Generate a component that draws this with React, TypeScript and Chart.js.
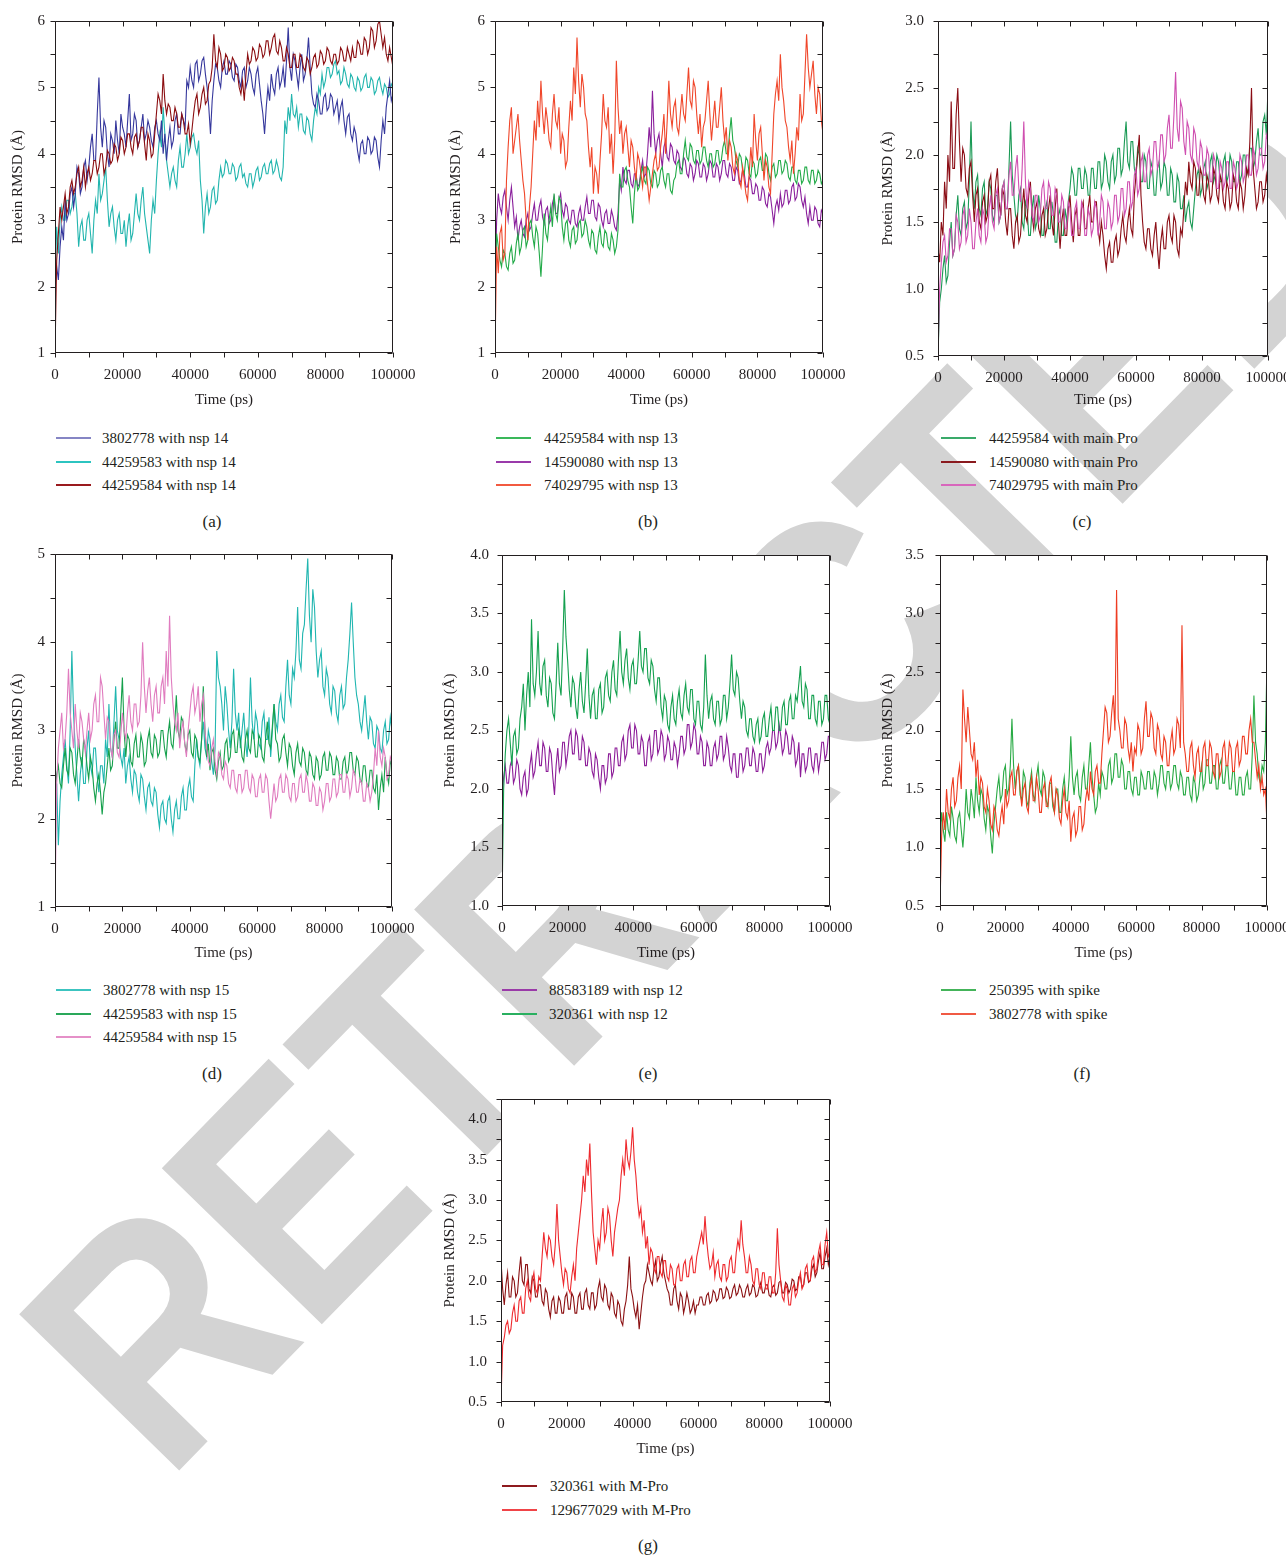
import React, { useEffect, useRef } from "react";
import { Chart, registerables } from "chart.js";

Chart.register(...registerables);
Chart.defaults.font.family = "'Liberation Serif', 'Times New Roman', serif";
Chart.defaults.font.size = 15;
Chart.defaults.color = "#231f20";

// sampling grid of the trajectories (ps), one frame every 500 ps
const TIME_PS = Array.from({ length: 201 }, (_, i) => i * 500);
const X_TICK_STEP = 20000;

// ---------- (a) nsp 14 ----------
const A_3802778 = [2.0,2.3,2.1,2.6,2.9,2.7,3.3,3.0,3.1,3.4,3.5,3.2,3.4,3.8,3.7,3.4,3.5,3.8,3.9,3.6,3.8,4.1,4.3,3.9,3.9,4.6,5.15,4.4,4.1,4.5,4.4,4.0,3.8,4.3,4.2,4.0,4.5,4.2,4.0,4.6,4.4,4.3,4.1,4.5,4.9,4.2,4.3,4.6,4.5,4.1,4.2,4.4,4.6,4.2,4.3,4.5,4.4,4.2,4.1,4.4,4.5,4.3,4.2,4.5,4.0,4.3,3.9,4.2,4.4,4.1,4.2,4.5,4.6,4.3,4.3,4.6,4.5,4.4,5.1,5.0,5.3,5.1,5.0,5.35,5.4,5.1,5.2,5.4,5.45,5.2,5.0,4.7,4.3,4.8,5.1,5.35,5.3,5.1,5.0,5.3,5.4,5.2,5.2,5.4,5.35,5.15,5.1,5.35,5.3,5.1,5.0,5.25,5.3,5.0,5.1,5.3,5.2,5.0,4.9,5.2,5.3,5.05,4.8,4.6,4.3,4.7,5.0,4.8,5.2,5.0,4.9,5.2,5.3,5.0,5.1,5.3,5.0,5.4,5.9,5.3,5.1,5.5,5.4,5.2,5.0,5.3,5.5,5.1,5.2,5.4,5.75,5.3,4.9,4.75,4.7,4.9,4.8,4.6,4.6,4.85,4.9,4.65,4.7,4.9,4.85,4.6,4.7,4.8,4.5,4.7,4.8,4.5,4.3,4.55,4.6,4.3,4.2,4.4,4.3,4.05,3.9,4.15,4.2,4.0,4.0,4.25,4.2,4.0,4.05,4.25,4.2,3.95,3.8,4.2,4.5,4.3,4.7,4.9,5.1,4.8,4.9];
const A_44259583 = [2.0,2.9,2.5,3.0,3.2,3.0,3.0,3.3,3.3,3.1,3.2,3.4,3.4,3.1,2.6,2.9,3.0,2.7,2.7,3.0,3.1,2.8,2.5,3.0,3.3,3.1,3.7,3.3,3.4,3.6,3.8,3.3,2.9,3.1,3.2,2.9,2.7,3.0,3.1,2.8,2.8,3.0,2.6,2.9,3.1,2.7,2.8,3.1,3.4,3.1,3.0,3.3,3.5,3.1,2.9,2.7,2.5,3.0,3.3,3.1,3.6,4.0,4.3,4.1,4.7,4.3,3.9,3.7,3.5,3.7,3.8,3.6,3.5,3.9,4.1,3.8,3.8,4.0,4.3,4.0,4.1,4.25,4.3,4.1,4.0,4.2,3.6,3.3,2.8,3.2,3.4,3.1,3.2,3.45,3.5,3.25,3.3,3.6,3.8,3.65,3.7,3.9,3.85,3.7,3.7,3.85,3.8,3.6,3.65,3.8,3.85,3.65,3.7,3.55,3.5,3.7,3.7,3.5,3.6,3.75,3.8,3.6,3.65,3.8,3.85,3.7,3.7,3.85,3.9,3.7,3.75,3.9,3.8,3.65,3.6,3.8,4.5,4.3,4.7,4.5,4.9,4.6,4.55,4.7,4.4,4.6,4.6,4.35,4.3,4.55,4.5,4.3,4.2,4.5,4.7,4.6,5.0,4.9,5.2,5.0,5.1,5.3,5.3,5.15,5.2,5.35,5.4,5.2,5.25,5.05,5.1,5.3,5.2,5.05,5.0,5.2,5.15,5.0,4.95,5.15,5.1,4.95,5.0,5.15,5.2,5.0,5.0,5.15,5.1,4.9,4.95,5.1,5.15,5.0,4.9,5.05,5.0,4.85,4.9,5.05,5.0];
const A_44259584 = [1.0,2.4,2.8,3.2,3.0,3.2,3.4,3.1,3.2,3.5,3.6,3.4,3.5,3.7,3.8,3.5,3.6,3.8,3.5,3.7,3.8,3.6,3.7,3.9,3.9,3.7,3.8,4.0,4.0,3.7,3.8,4.05,4.0,3.85,3.9,4.15,4.1,3.9,4.0,4.25,4.2,4.0,4.1,4.3,4.3,4.1,4.0,4.25,4.3,4.1,4.2,4.4,4.4,4.15,3.9,4.3,4.2,3.95,4.0,4.3,4.6,4.9,4.8,4.6,5.2,4.8,4.6,4.75,4.7,4.5,4.5,4.7,4.6,4.4,4.4,4.6,4.5,4.3,4.3,4.45,4.15,4.35,4.6,4.8,4.9,4.6,4.7,4.9,5.0,4.75,4.8,5.05,5.1,5.3,5.8,5.4,5.3,5.6,5.5,5.25,5.3,5.5,5.45,5.25,5.3,5.45,5.4,5.2,5.2,5.0,4.9,5.1,4.8,5.2,5.5,5.35,5.4,5.6,5.55,5.4,5.45,5.65,5.6,5.45,5.5,5.7,5.7,5.5,5.6,5.75,5.8,5.55,5.5,5.7,5.6,5.4,5.4,5.6,5.5,5.3,5.3,5.5,5.5,5.3,5.3,5.5,5.45,5.3,5.25,5.45,5.4,5.2,5.3,5.45,5.5,5.3,5.35,5.55,5.5,5.35,5.4,5.6,5.55,5.4,5.35,5.5,5.5,5.35,5.4,5.6,5.55,5.4,5.4,5.6,5.5,5.4,5.6,5.45,5.45,5.7,5.65,5.5,5.5,5.75,5.7,5.5,5.6,5.9,5.85,5.6,5.7,5.95,6.0,5.8,5.6,5.75,5.5,5.4,5.6,5.45,5.3];

// ---------- (b) nsp 13 ----------
const B_44259584 = [2.0,2.8,2.6,2.4,2.3,2.55,2.5,2.3,2.25,2.5,2.6,2.35,2.4,2.65,2.8,2.5,2.6,2.85,2.9,2.6,2.7,2.95,3.0,2.75,2.6,2.9,2.8,2.5,2.15,2.6,3.1,2.8,2.7,3.0,3.2,2.9,3.4,3.1,3.0,3.35,3.3,2.9,2.7,2.95,3.0,2.7,2.6,2.85,2.9,2.65,2.7,2.95,3.0,2.75,2.8,3.0,2.9,2.7,2.6,2.85,2.8,2.55,2.5,2.75,2.9,2.65,2.6,2.85,2.8,2.6,2.55,2.8,2.7,2.5,2.6,2.85,3.7,3.5,3.5,3.75,3.8,3.6,3.5,3.2,2.95,3.4,3.7,3.45,3.5,3.7,3.8,3.6,3.55,3.8,3.75,3.55,3.5,3.75,3.7,3.5,3.55,3.75,3.8,3.6,3.5,3.7,3.7,3.45,3.4,3.6,3.65,3.85,3.9,3.7,3.7,4.0,4.2,3.95,3.9,4.15,4.1,3.9,3.85,4.05,4.05,3.85,3.9,4.1,4.1,3.9,3.8,4.0,4.0,3.8,3.85,4.05,4.05,3.85,3.9,4.1,4.2,4.0,4.0,4.3,4.55,4.2,4.1,3.9,3.8,4.0,3.95,3.75,3.7,3.95,3.9,3.7,3.65,3.9,3.85,3.65,3.7,3.9,3.95,3.75,3.75,4.0,3.95,3.7,3.6,3.8,3.85,3.65,3.7,3.9,3.9,3.7,3.75,3.9,3.85,3.65,3.6,3.8,3.8,3.6,3.55,3.75,3.75,3.55,3.6,3.8,3.8,3.6,3.55,3.75,3.75,3.55,3.6,3.75,3.7,3.55,3.6];
const B_14590080 = [2.0,3.0,3.4,3.2,3.1,3.35,3.45,3.2,3.0,3.3,3.5,3.2,2.9,3.05,2.7,2.9,3.0,2.8,2.75,3.0,3.1,2.85,2.9,3.1,3.25,3.0,3.0,3.2,3.3,3.05,2.95,3.15,3.2,2.95,3.0,3.25,3.35,3.1,3.1,3.3,3.4,3.15,3.05,3.25,3.2,3.0,2.95,3.15,3.15,2.95,2.9,3.1,3.2,3.0,3.0,3.2,3.35,3.1,3.1,3.3,3.3,3.05,3.0,3.25,3.2,3.0,2.9,3.1,3.15,2.95,2.95,3.15,3.05,2.9,2.85,3.1,3.6,3.45,3.8,3.6,3.55,3.75,3.75,3.55,3.5,3.7,3.7,3.5,3.55,3.75,3.9,3.65,3.7,4.0,4.4,4.1,4.95,4.3,4.0,4.2,4.3,4.0,3.8,4.1,4.2,3.95,3.9,4.15,4.1,3.9,3.85,4.05,4.0,3.8,3.75,3.95,3.9,3.7,3.65,3.85,3.8,3.6,3.7,3.9,3.85,3.65,3.65,3.85,3.8,3.6,3.7,3.9,3.85,3.65,3.65,3.85,3.8,3.6,3.7,3.9,3.9,3.7,3.65,3.85,3.8,3.6,3.6,3.8,3.75,3.55,3.6,3.75,3.7,3.5,3.5,3.65,3.6,3.4,3.4,3.55,3.5,3.3,3.3,3.5,3.45,3.25,3.2,3.4,3.35,3.15,2.95,3.2,3.3,3.15,3.4,3.2,3.25,3.45,3.45,3.25,3.3,3.5,3.55,3.3,3.35,3.55,3.5,3.3,3.2,3.35,3.1,2.95,3.2,3.0,3.0,3.2,3.15,2.95,2.9,3.15,3.1];
const B_74029795 = [1.0,2.6,2.2,2.8,2.9,2.4,2.5,3.6,4.1,4.5,4.7,4.0,4.2,4.4,4.6,4.2,3.9,3.6,3.4,3.0,2.7,3.2,3.5,4.0,4.5,4.2,4.8,4.4,5.1,4.6,4.3,4.7,4.5,4.2,4.1,4.6,4.9,4.5,4.4,4.7,4.0,4.3,4.2,3.8,3.9,4.4,4.8,4.5,5.3,4.9,5.75,5.1,4.7,5.2,5.0,4.6,4.5,4.1,3.8,4.1,3.4,3.8,3.7,3.4,3.9,4.3,4.9,4.5,4.4,4.7,4.0,4.3,3.7,4.2,5.4,4.7,4.3,4.5,4.0,4.3,4.4,4.1,3.8,4.2,4.1,3.8,3.6,4.0,3.9,3.7,3.5,3.8,3.8,3.55,3.3,3.5,3.7,3.9,4.0,3.75,3.8,4.1,4.3,4.6,4.0,4.5,5.1,4.6,4.4,4.7,4.8,4.4,4.3,4.6,4.9,4.6,4.5,4.9,5.3,4.8,4.7,5.1,5.0,4.6,4.3,4.6,4.1,4.4,4.5,4.8,5.1,4.6,4.2,4.5,4.8,4.4,4.4,4.7,5.0,4.5,4.2,4.4,3.9,4.2,4.1,3.8,3.7,4.0,3.9,3.6,3.5,3.8,3.6,3.4,3.3,3.7,4.1,3.8,4.6,4.2,3.9,4.3,4.4,4.0,3.6,3.9,3.8,3.5,3.4,4.0,4.6,4.9,5.1,4.8,5.5,5.0,4.8,4.5,4.4,4.1,3.9,4.2,3.7,4.0,4.4,4.2,4.9,4.5,4.6,5.2,5.8,5.3,5.0,5.2,5.4,4.9,4.6,5.0,4.9,4.5,4.3];

// ---------- (c) main Pro ----------
const C_44259584 = [0.5,0.9,1.0,1.15,1.25,1.05,1.1,1.35,1.5,1.25,1.3,1.55,1.7,1.45,1.4,1.6,1.65,1.45,1.5,1.8,2.25,1.75,1.6,1.8,1.85,1.6,1.55,1.75,1.8,1.55,1.6,1.8,1.75,1.55,1.5,1.7,1.7,1.5,1.55,1.75,1.8,1.6,1.6,1.9,2.25,1.85,1.7,1.55,1.5,1.7,1.75,1.5,1.45,1.65,1.6,1.4,1.4,1.6,1.7,1.45,1.5,1.7,1.6,1.4,1.4,1.6,1.65,1.45,1.45,1.65,1.55,1.35,1.35,1.55,1.6,1.4,1.4,1.6,1.5,1.65,1.75,1.9,1.85,1.7,1.7,1.9,1.9,1.75,1.75,1.9,1.85,1.7,1.7,1.9,1.9,1.75,1.75,1.95,1.95,1.75,1.8,2.0,1.95,1.8,1.75,1.95,2.0,1.8,1.85,2.05,2.05,1.85,1.9,2.1,2.25,1.95,1.9,2.1,2.1,1.9,1.85,2.05,2.0,1.8,1.8,2.0,1.95,1.75,1.75,1.95,1.9,1.7,1.7,1.9,1.95,1.75,1.8,1.95,1.9,1.7,1.7,1.9,1.85,1.65,1.65,1.85,1.8,1.6,1.6,1.7,1.5,1.6,1.65,1.5,1.45,1.6,1.75,1.85,1.9,1.7,1.75,1.9,1.95,1.75,1.8,1.95,2.0,1.8,1.85,2.0,1.95,1.8,1.8,1.95,2.0,1.8,1.85,2.0,1.95,1.8,1.8,1.95,1.95,1.8,1.85,2.0,2.0,1.85,1.9,2.05,2.05,1.9,1.95,2.1,2.2,2.0,2.0,2.25,2.3,2.15,2.5];
const C_14590080 = [1.3,1.2,1.5,1.4,1.8,1.6,2.0,1.8,2.4,1.9,1.9,2.3,2.5,2.1,1.8,2.05,2.0,1.75,1.7,1.9,1.95,1.7,1.5,1.7,1.75,1.5,1.45,1.65,1.7,1.5,1.55,1.8,1.85,1.6,1.6,1.8,1.9,1.65,1.55,1.75,1.7,1.5,1.4,1.6,1.6,1.4,1.3,1.5,1.55,1.35,1.4,1.6,1.75,1.55,1.5,1.7,1.8,1.55,1.45,1.6,1.65,1.45,1.4,1.55,1.6,1.4,1.45,1.6,1.7,1.5,1.4,1.6,1.75,1.5,1.3,1.5,1.6,1.4,1.4,1.6,1.7,1.5,1.35,1.55,1.6,1.4,1.4,1.6,1.65,1.45,1.45,1.6,1.7,1.5,1.5,1.65,1.65,1.45,1.35,1.5,1.4,1.25,1.15,1.3,1.35,1.2,1.2,1.35,1.4,1.25,1.3,1.45,1.55,1.4,1.35,1.5,1.6,1.45,1.4,1.7,1.85,2.0,2.15,1.7,1.5,1.35,1.3,1.45,1.45,1.3,1.25,1.4,1.5,1.3,1.15,1.35,1.45,1.3,1.3,1.5,1.55,1.4,1.35,1.55,1.5,1.3,1.25,1.45,1.4,1.6,1.8,1.7,1.95,1.8,1.75,1.95,1.9,1.7,1.7,1.9,1.85,1.7,1.65,1.85,1.8,1.65,1.7,1.9,1.85,1.7,1.65,1.85,1.8,1.65,1.6,1.8,1.75,1.6,1.65,1.85,1.8,1.65,1.6,1.8,1.75,1.6,1.7,1.9,1.85,2.1,2.5,1.9,1.75,1.6,1.65,1.8,1.8,1.65,1.7,1.85,1.75];
const C_74029795 = [0.5,1.0,1.2,1.35,1.4,1.2,1.25,1.45,1.45,1.25,1.3,1.55,1.5,1.3,1.35,1.55,1.6,1.35,1.4,1.6,1.5,1.3,1.3,1.5,1.6,1.4,1.35,1.6,1.55,1.35,1.4,1.6,1.7,1.5,1.45,1.7,1.75,1.5,1.55,1.75,1.8,1.6,1.6,1.85,1.95,1.7,1.7,1.9,2.0,1.75,1.65,1.9,2.25,1.8,1.6,1.8,1.75,1.55,1.5,1.7,1.7,1.5,1.55,1.75,1.8,1.6,1.6,1.8,1.75,1.55,1.55,1.75,1.7,1.5,1.5,1.7,1.65,1.45,1.45,1.65,1.6,1.4,1.4,1.6,1.65,1.45,1.45,1.65,1.6,1.4,1.4,1.6,1.55,1.4,1.45,1.65,1.6,1.4,1.5,1.7,1.65,1.45,1.45,1.65,1.6,1.45,1.5,1.7,1.7,1.5,1.55,1.75,1.75,1.55,1.6,1.8,1.8,1.6,1.65,1.85,1.9,1.7,1.75,1.95,2.0,1.8,1.8,2.0,2.05,1.85,1.9,2.1,2.1,1.9,1.95,2.15,2.15,1.95,2.0,2.2,2.3,2.05,2.05,2.3,2.62,2.2,2.1,2.4,2.35,2.1,2.0,2.25,2.2,2.0,1.95,2.2,2.15,1.95,1.9,2.1,2.05,1.85,1.85,2.05,2.0,1.8,1.8,2.0,1.95,1.75,1.75,1.95,1.9,1.75,1.8,1.95,1.95,1.75,1.75,1.95,1.9,1.75,1.8,2.0,1.95,1.8,1.85,2.0,2.0,1.85,1.85,2.05,2.0,1.85,1.9,2.05,2.05,1.9,1.95,2.15,2.1];

// ---------- (d) nsp 15 ----------
const D_3802778 = [2.0,2.4,1.7,2.2,2.5,2.7,2.9,2.6,2.4,3.0,3.9,3.2,2.8,2.5,2.2,2.5,2.7,2.4,2.4,2.8,3.0,2.6,2.5,2.8,2.8,2.5,2.3,2.6,2.6,2.4,2.9,2.7,3.3,2.8,2.7,3.1,3.5,3.0,2.9,2.7,2.6,2.8,2.4,2.6,2.7,2.45,2.3,2.55,2.5,2.3,2.2,2.5,2.45,2.25,2.1,2.35,2.4,2.2,2.15,2.35,2.3,2.05,1.9,2.15,2.2,2.0,1.95,2.2,2.25,2.0,1.85,2.1,2.2,2.0,2.0,2.25,2.35,2.1,2.1,2.35,2.45,2.25,2.2,2.6,2.9,2.7,2.6,2.9,3.1,2.8,2.7,3.0,2.9,2.65,2.5,2.8,3.9,3.6,3.5,3.3,3.0,3.5,3.3,3.0,2.8,3.1,3.7,3.2,3.0,3.2,2.8,3.0,3.2,2.9,2.7,3.0,3.6,3.1,2.9,3.2,3.1,2.85,2.8,3.1,3.2,2.9,2.9,3.15,2.7,3.0,3.3,3.1,3.0,3.3,3.4,3.15,3.1,3.5,3.8,3.4,3.3,3.7,3.6,3.9,4.4,3.8,3.7,4.1,4.2,4.6,4.95,4.3,4.0,4.6,4.4,3.9,3.6,3.8,3.9,3.5,3.4,3.7,3.6,3.3,3.2,3.5,3.45,3.2,3.1,3.4,3.5,3.25,3.3,3.6,3.8,4.1,4.45,4.0,3.6,3.4,3.3,3.1,3.0,3.2,3.4,3.1,2.9,3.15,3.1,2.85,2.8,3.05,3.0,2.8,2.75,3.0,3.1,2.85,2.9,3.15,3.0];
const D_44259583 = [2.3,2.5,2.6,2.4,2.35,2.6,2.8,2.55,2.5,2.8,2.75,2.5,2.4,2.65,2.9,2.7,2.6,2.9,2.8,2.6,2.45,2.7,2.6,2.35,2.2,2.4,2.5,2.3,2.05,2.3,2.4,2.6,2.8,2.55,2.6,2.9,3.1,2.8,2.8,3.2,3.6,3.0,2.7,2.95,2.9,2.65,2.6,2.85,2.95,2.7,2.7,2.95,2.85,2.6,2.65,2.9,3.0,2.75,2.7,2.95,2.9,2.7,2.75,3.0,3.0,2.8,2.7,2.95,3.1,2.85,2.8,3.05,3.4,3.0,2.9,3.15,3.1,2.85,2.75,2.95,3.0,2.75,2.7,2.95,2.9,2.7,2.65,2.9,3.5,3.0,2.7,2.85,2.55,2.75,2.8,2.55,2.45,2.65,2.75,2.55,2.6,2.85,2.9,2.65,2.7,2.95,3.0,2.75,2.75,3.0,2.9,2.7,2.65,2.9,3.0,2.8,2.75,3.0,2.95,2.7,2.7,2.95,2.9,2.7,2.65,2.9,3.1,2.85,2.8,3.05,3.3,2.9,2.85,2.65,2.7,2.9,2.95,2.75,2.6,2.85,2.8,2.6,2.5,2.75,2.85,2.65,2.6,2.8,2.75,2.55,2.5,2.75,2.7,2.5,2.45,2.7,2.65,2.45,2.5,2.7,2.75,2.55,2.55,2.75,2.7,2.5,2.5,2.7,2.65,2.45,2.45,2.65,2.7,2.5,2.55,2.75,2.75,2.55,2.5,2.7,2.65,2.45,2.4,2.6,2.6,2.4,2.35,2.55,2.55,2.35,2.3,2.5,2.1,2.35,2.5,2.3,2.7,2.5,2.4,2.65,2.6];
const D_44259584 = [1.0,2.4,2.8,3.0,3.2,2.8,2.9,3.2,3.7,3.2,3.0,2.8,3.3,3.0,2.8,3.2,3.1,2.9,2.75,3.0,3.2,2.9,3.0,3.3,3.4,3.1,3.1,3.6,3.5,3.2,2.9,3.15,3.1,2.8,2.7,2.95,3.0,2.75,2.7,2.95,3.2,3.0,2.9,3.2,3.4,3.1,3.0,3.3,3.3,3.05,3.1,3.4,4.0,3.5,3.2,3.45,3.6,3.3,3.1,3.4,3.5,3.2,3.2,3.5,3.6,3.3,3.9,3.5,4.3,3.6,3.3,3.1,3.0,3.2,2.8,3.0,3.1,2.85,2.7,3.0,3.2,3.4,3.5,3.2,3.3,3.5,3.1,3.3,3.4,3.0,2.8,2.65,2.6,2.8,2.9,2.65,2.5,2.75,2.7,2.5,2.45,2.65,2.6,2.4,2.35,2.55,2.55,2.35,2.3,2.5,2.5,2.3,2.35,2.55,2.55,2.35,2.3,2.5,2.45,2.25,2.25,2.45,2.5,2.3,2.3,2.5,2.45,2.2,2.0,2.2,2.4,2.2,2.25,2.45,2.5,2.3,2.3,2.5,2.45,2.25,2.2,2.4,2.4,2.2,2.25,2.45,2.5,2.3,2.3,2.5,2.4,2.2,2.2,2.4,2.35,2.15,2.15,2.35,2.3,2.1,2.2,2.4,2.4,2.2,2.25,2.45,2.45,2.25,2.3,2.5,2.5,2.3,2.3,2.5,2.45,2.25,2.35,2.55,2.5,2.3,2.3,2.45,2.4,2.2,2.2,2.4,2.35,2.2,2.3,2.5,2.8,2.6,3.0,2.7,2.6,2.8,2.7,2.45,2.5,2.7,2.65];

// ---------- (e) nsp 12 ----------
const E_88583189 = [1.9,2.1,2.2,2.05,2.05,2.2,2.25,2.05,2.1,2.25,2.2,2.0,1.95,2.1,2.15,1.95,2.0,2.2,2.3,2.1,2.15,2.3,2.4,2.2,2.2,2.4,2.35,2.15,2.15,2.35,2.3,2.1,1.95,2.2,2.35,2.15,2.2,2.4,2.4,2.2,2.3,2.45,2.5,2.3,2.3,2.5,2.45,2.25,2.25,2.45,2.4,2.2,2.2,2.35,2.3,2.15,2.1,2.3,2.25,2.1,2.0,2.2,2.2,2.05,2.1,2.3,2.3,2.1,2.15,2.35,2.35,2.2,2.2,2.4,2.45,2.25,2.3,2.5,2.55,2.35,2.35,2.55,2.5,2.3,2.3,2.45,2.4,2.2,2.2,2.4,2.45,2.25,2.3,2.5,2.5,2.3,2.35,2.5,2.45,2.25,2.3,2.45,2.4,2.25,2.25,2.4,2.35,2.2,2.3,2.45,2.45,2.3,2.35,2.55,2.55,2.35,2.4,2.55,2.5,2.3,2.3,2.45,2.4,2.2,2.2,2.4,2.35,2.2,2.2,2.35,2.4,2.25,2.3,2.45,2.45,2.25,2.3,2.45,2.35,2.2,2.15,2.3,2.3,2.1,2.1,2.3,2.3,2.15,2.2,2.35,2.35,2.2,2.2,2.35,2.3,2.15,2.15,2.3,2.3,2.15,2.2,2.35,2.4,2.3,2.35,2.5,2.5,2.35,2.4,2.55,2.45,2.3,2.35,2.5,2.45,2.3,2.3,2.45,2.4,2.2,2.25,2.4,2.1,2.3,2.3,2.15,2.2,2.35,2.35,2.2,2.15,2.3,2.3,2.15,2.25,2.4,2.4,2.25,2.3,2.45,2.45];
const E_320361 = [1.0,2.0,2.3,2.5,2.6,2.4,2.2,2.45,2.5,2.3,2.35,2.6,2.7,2.9,2.5,2.8,3.0,2.7,3.45,2.9,2.8,3.0,3.35,2.9,2.8,3.05,3.1,2.8,2.7,2.95,2.9,2.65,2.6,2.9,3.25,2.9,2.8,3.2,3.7,3.3,3.1,2.85,2.7,2.95,2.9,2.7,2.6,2.85,3.0,2.75,2.65,2.9,3.2,2.8,2.6,2.8,2.85,2.6,2.6,2.85,2.9,2.65,2.7,2.95,3.0,2.8,2.75,3.0,3.1,2.85,2.8,3.1,3.35,3.0,2.9,3.1,3.2,2.95,2.85,3.05,3.1,2.9,2.9,3.1,3.35,3.05,3.0,3.2,3.2,2.95,2.9,3.1,3.05,2.85,2.75,2.95,2.95,2.7,2.6,2.8,2.75,2.55,2.5,2.7,2.8,2.6,2.55,2.75,2.85,2.65,2.6,2.8,2.9,2.7,2.65,2.85,2.85,2.6,2.55,2.75,2.75,2.55,2.5,2.7,3.15,2.8,2.6,2.75,2.8,2.6,2.55,2.75,2.75,2.55,2.6,2.8,2.8,2.6,2.7,2.9,3.15,2.85,2.8,3.0,2.95,2.75,2.6,2.75,2.7,2.5,2.45,2.6,2.6,2.45,2.4,2.55,2.6,2.4,2.45,2.6,2.65,2.45,2.45,2.6,2.7,2.5,2.5,2.7,2.7,2.5,2.5,2.7,2.75,2.55,2.55,2.75,2.8,2.6,2.6,2.8,2.75,2.9,3.05,2.75,2.7,2.9,2.85,2.6,2.6,2.8,2.8,2.6,2.55,2.75,2.75,2.55,2.6,2.8,2.8,2.6,2.55];

// ---------- (f) spike ----------
const F_250395 = [1.0,1.3,1.15,1.05,1.3,1.15,1.1,1.35,1.25,1.1,1.05,1.25,1.3,1.15,1.0,1.2,1.5,1.3,1.25,1.5,1.4,1.25,1.6,1.4,1.3,1.5,1.45,1.25,1.15,1.35,1.3,1.1,0.95,1.2,1.35,1.5,1.6,1.4,1.45,1.65,1.7,1.45,1.5,1.7,2.1,1.7,1.5,1.65,1.7,1.45,1.4,1.65,1.6,1.4,1.35,1.55,1.65,1.45,1.4,1.6,1.7,1.5,1.45,1.65,1.6,1.4,1.35,1.55,1.55,1.35,1.3,1.5,1.5,1.3,1.3,1.5,1.6,1.4,1.4,1.6,1.95,1.6,1.45,1.6,1.65,1.45,1.4,1.6,1.7,1.5,1.5,1.7,1.9,1.6,1.45,1.3,1.35,1.55,1.45,1.65,1.6,1.5,1.5,1.7,1.75,1.55,1.6,1.8,1.8,1.6,1.6,1.75,1.7,1.5,1.5,1.65,1.65,1.5,1.45,1.6,1.6,1.45,1.45,1.65,1.6,1.5,1.5,1.65,1.65,1.5,1.5,1.65,1.6,1.45,1.55,1.7,1.7,1.55,1.5,1.65,1.65,1.5,1.55,1.7,1.7,1.55,1.5,1.65,1.6,1.45,1.45,1.6,1.6,1.45,1.4,1.6,1.55,1.4,1.45,1.6,1.7,1.5,1.55,1.75,1.75,1.55,1.55,1.7,1.7,1.5,1.5,1.7,1.75,1.55,1.55,1.7,1.7,1.5,1.5,1.65,1.65,1.45,1.45,1.6,1.6,1.45,1.45,1.6,1.65,1.5,1.5,1.8,2.3,1.9,1.8,1.6,1.55,1.7,1.65,1.9,2.6];
const F_3802778 = [0.5,1.1,1.3,1.15,1.5,1.3,1.25,1.5,1.6,1.35,1.4,1.6,1.7,1.5,2.35,2.1,1.9,2.2,2.0,1.8,1.75,1.9,1.6,1.75,1.45,1.6,1.55,1.35,1.3,1.5,1.4,1.2,1.15,1.35,1.3,1.15,1.1,1.25,1.35,1.2,1.5,1.35,1.4,1.6,1.65,1.45,1.45,1.65,1.7,1.5,1.35,1.5,1.55,1.35,1.3,1.5,1.6,1.4,1.4,1.6,1.5,1.3,1.3,1.5,1.55,1.35,1.35,1.55,1.6,1.4,1.3,1.5,1.45,1.25,1.2,1.4,1.5,1.3,1.25,1.4,1.05,1.25,1.3,1.1,1.15,1.35,1.35,1.15,1.2,1.4,1.5,1.4,1.65,1.5,1.45,1.65,1.7,1.55,1.55,1.8,2.0,2.2,2.15,1.9,1.95,2.15,2.3,2.0,3.2,2.1,2.0,1.85,1.85,2.1,2.05,1.85,1.75,1.9,1.65,1.85,1.8,2.05,2.0,1.8,1.85,2.1,2.25,1.95,1.95,2.15,2.1,1.85,1.8,2.05,2.0,1.8,1.75,1.95,1.9,1.7,1.7,1.9,2.0,1.8,1.85,2.1,2.05,1.85,2.9,1.9,1.8,1.65,1.65,1.85,1.9,1.7,1.6,1.8,1.85,1.65,1.65,1.85,1.9,1.7,1.7,1.9,1.85,1.65,1.6,1.8,1.8,1.6,1.65,1.85,1.9,1.7,1.7,1.9,1.85,1.65,1.65,1.85,1.9,1.7,1.75,1.95,1.95,1.8,1.8,2.0,2.1,1.9,1.9,1.75,1.6,1.7,1.5,1.6,1.45,1.5,1.2];

// ---------- (g) M-Pro ----------
const G_320361 = [2.25,1.9,1.7,1.95,2.1,1.8,1.8,2.05,2.0,1.8,1.85,2.1,2.3,2.0,1.95,2.2,2.2,1.9,1.85,2.05,2.0,1.8,1.8,1.95,1.95,1.75,1.7,1.9,1.85,1.65,1.55,1.75,1.8,1.6,1.6,1.8,1.75,1.6,1.6,1.8,1.85,1.65,1.65,1.85,1.8,1.6,1.6,1.8,1.85,1.65,1.65,1.85,1.9,1.7,1.65,1.85,1.85,1.65,1.7,1.9,2.0,1.8,1.75,1.95,1.9,1.7,1.65,1.85,1.8,1.6,1.55,1.75,1.7,1.5,1.45,1.65,1.75,1.95,2.3,1.9,1.8,1.65,1.55,1.7,1.4,1.6,1.8,1.95,2.0,2.2,2.1,2.0,1.95,2.15,2.25,2.0,2.05,2.2,2.3,2.1,2.0,1.9,1.85,1.7,1.7,1.9,1.95,1.75,1.65,1.85,1.8,1.6,1.7,1.85,1.75,1.6,1.65,1.75,1.6,1.7,1.7,1.8,1.8,1.7,1.7,1.82,1.85,1.72,1.75,1.88,1.85,1.75,1.78,1.9,1.9,1.78,1.8,1.92,1.88,1.78,1.8,1.9,1.95,1.82,1.85,1.95,1.9,1.8,1.8,1.9,1.95,1.82,1.85,1.95,1.92,1.8,1.82,1.92,1.98,1.85,1.85,1.95,1.95,1.82,1.8,1.92,1.95,1.82,1.85,1.98,2.0,1.85,1.85,1.98,1.95,1.85,1.9,2.02,2.0,1.88,1.9,2.05,2.05,1.92,1.95,2.1,2.1,1.98,2.0,2.15,2.2,2.05,2.1,2.25,2.35,2.15,2.15,2.3,2.4,2.2,2.3];
const G_129677029 = [0.5,1.2,1.3,1.45,1.5,1.35,1.4,1.6,1.7,1.5,1.5,1.75,1.8,1.6,1.6,1.9,2.0,1.8,1.75,2.0,2.1,1.9,1.85,2.05,2.0,2.3,2.6,2.4,2.3,2.55,2.5,2.3,2.2,2.45,2.95,2.5,2.3,2.1,1.95,2.15,2.1,1.9,1.85,2.05,2.2,2.0,2.4,2.6,2.8,3.0,3.3,3.1,3.5,3.3,3.7,3.1,2.6,2.4,2.2,2.5,2.4,2.7,2.9,2.5,2.6,2.9,2.8,2.5,2.3,2.6,2.75,2.9,3.0,3.3,3.5,3.3,3.75,3.5,3.4,3.6,3.9,3.5,3.3,3.0,2.8,2.9,2.6,2.75,2.4,2.55,2.2,2.4,2.35,2.15,2.1,2.3,2.3,2.1,2.05,2.25,2.25,2.05,2.0,2.2,2.15,1.95,1.95,2.15,2.2,2.0,2.0,2.2,2.25,2.05,2.05,2.25,2.3,2.1,2.1,2.3,2.4,2.5,2.6,2.45,2.8,2.5,2.3,2.15,2.2,2.35,2.05,2.2,2.25,2.05,2.0,2.2,2.2,2.0,2.05,2.25,2.3,2.1,2.1,2.35,2.5,2.4,2.75,2.45,2.3,2.1,2.1,2.3,2.2,2.0,1.95,2.15,2.15,1.95,1.9,2.1,2.1,1.9,1.9,2.05,2.05,1.85,1.85,2.1,2.65,2.2,2.0,1.8,1.75,1.95,1.9,1.7,1.7,1.9,1.95,1.8,1.85,2.0,2.1,1.9,1.95,2.15,2.2,2.0,2.0,2.25,2.3,2.1,2.15,2.35,2.45,2.2,2.2,2.45,2.6,2.3,2.35];

type Series = { label: string; data: number[]; color: string; legendColor: string };
type PanelCfg = {
  id: string;
  L: number; T: number; R: number; B: number;
  titleX: number; titleY: number;
  yMin: number; yMax: number; yTop: number; yStep: number; yMinor: number; decimals: number; yPad: number;
  drawOrder: Series[]; // first = drawn on top
  legend: Series[];
  legendX: number; legendTextX: number; legendY: number;
  caption: string; capX: number; capY: number;
};

const sA1 = { label: "3802778 with nsp 14", data: A_3802778, color: "#35379c", legendColor: "#8585c4" };
const sA2 = { label: "44259583 with nsp 14", data: A_44259583, color: "#22b5ae", legendColor: "#2cc4c0" };
const sA3 = { label: "44259584 with nsp 14", data: A_44259584, color: "#8b0d10", legendColor: "#9a1a1e" };
const sB1 = { label: "44259584 with nsp 13", data: B_44259584, color: "#22aa48", legendColor: "#3ab85a" };
const sB2 = { label: "14590080 with nsp 13", data: B_14590080, color: "#8a1f9c", legendColor: "#9a3aaa" };
const sB3 = { label: "74029795 with nsp 13", data: B_74029795, color: "#f0462a", legendColor: "#f25a40" };
const sC1 = { label: "44259584 with main Pro", data: C_44259584, color: "#1a9a55", legendColor: "#3aaa6a" };
const sC2 = { label: "14590080 with main Pro", data: C_14590080, color: "#8a0c14", legendColor: "#8a1a1e" };
const sC3 = { label: "74029795 with main Pro", data: C_74029795, color: "#cf4fb0", legendColor: "#d866bc" };
const sD1 = { label: "3802778 with nsp 15", data: D_3802778, color: "#20b6b0", legendColor: "#3cc4c0" };
const sD2 = { label: "44259583 with nsp 15", data: D_44259583, color: "#15a04c", legendColor: "#2aa85a" };
const sD3 = { label: "44259584 with nsp 15", data: D_44259584, color: "#e07cbf", legendColor: "#e590c8" };
const sE1 = { label: "88583189 with nsp 12", data: E_88583189, color: "#8c1c98", legendColor: "#9a3aa8" };
const sE2 = { label: "320361 with nsp 12", data: E_320361, color: "#14a04f", legendColor: "#2ab060" };
const sF1 = { label: "250395 with spike", data: F_250395, color: "#28aa44", legendColor: "#44b45a" };
const sF2 = { label: "3802778 with spike", data: F_3802778, color: "#ee3c22", legendColor: "#f05a44" };
const sG1 = { label: "320361 with M-Pro", data: G_320361, color: "#8b1012", legendColor: "#8e1a1e" };
const sG2 = { label: "129677029 with M-Pro", data: G_129677029, color: "#ee2a2e", legendColor: "#f04448" };

const PANELS: PanelCfg[] = [
  { id: "a", L: 55, T: 21, R: 393, B: 353, titleX: 18, titleY: 400, yMin: 1, yMax: 6, yTop: 6, yStep: 1, yMinor: 0.5, decimals: 0, yPad: 10,
    drawOrder: [sA3, sA1, sA2], legend: [sA1, sA2, sA3], legendX: 56, legendTextX: 102, legendY: 438, caption: "(a)", capX: 212, capY: 522 },
  { id: "b", L: 495, T: 21, R: 823, B: 353, titleX: 456, titleY: 400, yMin: 1, yMax: 6, yTop: 6, yStep: 1, yMinor: 0.5, decimals: 0, yPad: 10,
    drawOrder: [sB3, sB1, sB2], legend: [sB1, sB2, sB3], legendX: 496, legendTextX: 544, legendY: 438, caption: "(b)", capX: 648, capY: 522 },
  { id: "c", L: 938, T: 21, R: 1268, B: 356, titleX: 888, titleY: 400, yMin: 0.5, yMax: 3.0, yTop: 3.0, yStep: 0.5, yMinor: 0.25, decimals: 1, yPad: 14,
    drawOrder: [sC3, sC2, sC1], legend: [sC1, sC2, sC3], legendX: 941, legendTextX: 989, legendY: 438, caption: "(c)", capX: 1082, capY: 522 },
  { id: "d", L: 55, T: 554, R: 392, B: 907, titleX: 18, titleY: 953, yMin: 1, yMax: 5, yTop: 5, yStep: 1, yMinor: 0.5, decimals: 0, yPad: 10,
    drawOrder: [sD3, sD2, sD1], legend: [sD1, sD2, sD3], legendX: 56, legendTextX: 103, legendY: 990, caption: "(d)", capX: 212, capY: 1074 },
  { id: "e", L: 502, T: 555, R: 830, B: 906, titleX: 450, titleY: 953, yMin: 1.0, yMax: 4.0, yTop: 4.0, yStep: 0.5, yMinor: 0.25, decimals: 1, yPad: 13,
    drawOrder: [sE2, sE1], legend: [sE1, sE2], legendX: 502, legendTextX: 549, legendY: 990, caption: "(e)", capX: 648, capY: 1074 },
  { id: "f", L: 940, T: 555, R: 1267, B: 906, titleX: 888, titleY: 953, yMin: 0.5, yMax: 3.5, yTop: 3.5, yStep: 0.5, yMinor: 0.25, decimals: 1, yPad: 16,
    drawOrder: [sF2, sF1], legend: [sF1, sF2], legendX: 941, legendTextX: 989, legendY: 990, caption: "(f)", capX: 1082, capY: 1074 },
  { id: "g", L: 501, T: 1099, R: 830, B: 1402, titleX: 450, titleY: 1449, yMin: 0.5, yMax: 4.25, yTop: 4.0, yStep: 0.5, yMinor: 0.25, decimals: 1, yPad: 14,
    drawOrder: [sG2, sG1], legend: [sG1, sG2], legendX: 502, legendTextX: 550, legendY: 1486, caption: "(g)", capX: 648, capY: 1546 },
];

const PAD_RIGHT = 42;
const X_LABEL_PAD = 13;
const INK = "#231f20";

function makeFramePlugin(p: PanelCfg) {
  return {
    id: "frame" + p.id,
    beforeDraw(chart: any) {
      const { ctx, chartArea: a } = chart;
      ctx.save();
      ctx.fillStyle = "#ffffff";
      ctx.fillRect(a.left, a.top, a.right - a.left, a.bottom - a.top);
      ctx.restore();
    },
    afterDraw(chart: any) {
      const { ctx, chartArea: a, scales } = chart;
      const xs = scales.x;
      const ys = scales.y;
      ctx.save();
      ctx.strokeStyle = INK;
      ctx.lineWidth = 1;
      const l = Math.round(a.left) + 0.5;
      const r = Math.round(a.right) - 0.5;
      const t = Math.round(a.top) + 0.5;
      const b = Math.round(a.bottom) - 0.5;
      ctx.beginPath();
      ctx.rect(l, t, r - l, b - t);
      for (let v = 0; v <= 100000 + 1; v += 10000) {
        const px = Math.round(xs.getPixelForValue(v)) + 0.5;
        ctx.moveTo(px, b); ctx.lineTo(px, b + 5);
        ctx.moveTo(px, t); ctx.lineTo(px, t + 5);
      }
      for (let v = p.yMin; v <= p.yMax + 1e-6; v += p.yMinor) {
        const py = Math.round(ys.getPixelForValue(v)) + 0.5;
        ctx.moveTo(l - 5, py); ctx.lineTo(l, py);
        ctx.moveTo(r - 5, py); ctx.lineTo(r, py);
      }
      ctx.stroke();
      ctx.restore();
    },
  };
}

function Panel({ p }: { p: PanelCfg }) {
  const ref = useRef<HTMLCanvasElement | null>(null);
  // top padding must cover the y scale's own padding (half label + tick padding)
  const padTop = p.yPad + 11;
  const left = p.titleX - 13;
  const top = p.T - padTop;
  const width = p.R + PAD_RIGHT - left;
  const yW = p.L - left;
  const xH = p.titleY + 13 - p.B;
  const height = p.B + xH - top;

  useEffect(() => {
    if (!ref.current) return;
    const chart = new Chart(ref.current, {
      type: "line",
      data: {
        datasets: p.drawOrder.map((s) => ({
          label: s.label,
          data: s.data.map((v, i) => ({ x: TIME_PS[i], y: v })),
          borderColor: s.color,
          backgroundColor: s.color,
          borderWidth: 1.1,
          pointRadius: 0,
          tension: 0,
          fill: false,
        })),
      },
      options: {
        responsive: false,
        animation: false,
        events: [],
        layout: { padding: { top: padTop, right: PAD_RIGHT, left: 0, bottom: 0 } },
        plugins: { legend: { display: false }, tooltip: { enabled: false } },
        scales: {
          x: {
            type: "linear",
            min: 0,
            max: 100000,
            afterFit: (s: any) => { s.height = xH; },
            grid: { display: false, drawTicks: false },
            border: { display: false },
            ticks: {
              stepSize: X_TICK_STEP,
              autoSkip: false,
              maxRotation: 0,
              padding: X_LABEL_PAD,
              color: INK,
              font: { size: 15 },
              callback: (v: any) => String(v),
            },
            title: { display: true, text: "Time (ps)", color: INK, font: { size: 15 }, padding: { top: 0, bottom: 4 } },
          },
          y: {
            type: "linear",
            min: p.yMin,
            max: p.yMax,
            afterFit: (s: any) => { s.width = yW; },
            afterBuildTicks: (s: any) => { s.ticks = s.ticks.filter((t: any) => t.value <= p.yTop + 1e-9); },
            grid: { display: false, drawTicks: false },
            border: { display: false },
            ticks: {
              stepSize: p.yStep,
              padding: p.yPad,
              color: INK,
              font: { size: 15 },
              callback: (v: any) => Number(v).toFixed(p.decimals),
            },
            title: { display: true, text: "Protein RMSD (Å)", color: INK, font: { size: 15 }, padding: { top: 4, bottom: 0 } },
          },
        },
      },
      plugins: [makeFramePlugin(p)],
    } as any);
    return () => chart.destroy();
  }, []);

  return (
    <>
      <canvas
        ref={ref}
        width={width}
        height={height}
        style={{ position: "absolute", left, top, width, height }}
      />
      {p.legend.map((s, i) => (
        <React.Fragment key={s.label}>
          <div
            style={{
              position: "absolute",
              left: p.legendX,
              top: p.legendY + i * 23.7 - 1,
              width: 35,
              height: 2,
              background: s.legendColor,
            }}
          />
          <div
            style={{
              position: "absolute",
              left: p.legendTextX,
              top: p.legendY + i * 23.7 - 10,
              height: 20,
              lineHeight: "20px",
              fontSize: 15,
              color: INK,
              whiteSpace: "nowrap",
              fontFamily: "'Liberation Serif', 'Times New Roman', serif",
            }}
          >
            {s.label}
          </div>
        </React.Fragment>
      ))}
      <div
        style={{
          position: "absolute",
          left: p.capX - 40,
          top: p.capY - 12,
          width: 80,
          height: 24,
          lineHeight: "24px",
          textAlign: "center",
          fontSize: 17,
          color: INK,
          fontFamily: "'Liberation Serif', 'Times New Roman', serif",
        }}
      >
        {p.caption}
      </div>
    </>
  );
}

export default function App() {
  return (
    <div
      style={{
        position: "absolute",
        left: 0,
        top: 0,
        width: 1286,
        height: 1558,
        overflow: "hidden",
        background: "#ffffff",
      }}
    >
      <svg
        width={1286}
        height={1558}
        style={{ position: "absolute", left: 0, top: 0 }}
      >
        <text
          x={0}
          y={0}
          transform="translate(166 1484) rotate(-45.7) scale(0.87 1)"
          fontFamily="'Liberation Sans', Arial, sans-serif"
          fontWeight={700}
          fontSize={325}
          fill="#d3d3d3"
        >
          RETRACTED
        </text>
      </svg>
      {PANELS.map((p) => (
        <Panel key={p.id} p={p} />
      ))}
    </div>
  );
}
